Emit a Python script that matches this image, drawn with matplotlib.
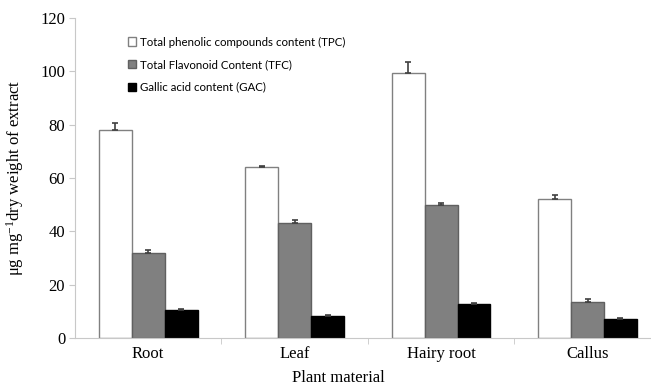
import numpy as np
import matplotlib.pyplot as plt

categories = ['Root', 'Leaf', 'Hairy root', 'Callus']
tpc = [78, 64, 99.5, 52]
tpc_err = [2.8, 0.4, 4.0, 1.5]
tfc = [32, 43, 50, 13.5]
tfc_err = [1.0, 1.3, 0.6, 1.2]
gac = [10.5, 8.3, 12.7, 7.2]
gac_err = [0.5, 0.3, 0.5, 0.3]
labels = ['Total phenolic compounds content (TPC)',
          'Total Flavonoid Content (TFC)',
          'Gallic acid content (GAC)']

serif = ['Liberation Serif', 'DejaVu Serif']
plt.rcParams['mathtext.fontset'] = 'custom'
plt.rcParams['mathtext.rm'] = 'Liberation Serif'

fig = plt.figure(figsize=(6.51, 3.85), dpi=100)
# the x axis runs off the right edge of the figure, as in the original
ax = fig.add_axes([0.115, 0.122, 0.9, 0.831])

x = np.arange(len(categories))
w = 0.225
series = [(tpc, tpc_err, 'white', '#808080'),
          (tfc, tfc_err, '#808080', '#606060'),
          (gac, gac_err, 'black', 'black')]
for i, (vals, err, fc, ec) in enumerate(series):
    pos = x + (i - 1) * w
    ax.bar(pos, vals, w, color=fc, edgecolor=ec, linewidth=1, label=labels[i], zorder=2)
    ax.errorbar(pos, vals, yerr=[np.zeros(len(err)), err], fmt='none',
                ecolor='#404040', elinewidth=1.2, capsize=2.5, capthick=1.2, zorder=3)

ax.set_xlim(-0.5, 3.5)
ax.set_ylim(0, 120)
ax.set_yticks(range(0, 121, 20))
ax.set_xticks(x)
ax.set_xticklabels(categories)
ax.set_xticks([0.5, 1.5, 2.5], minor=True)
ax.tick_params(axis='x', which='major', length=0, pad=6)
ax.tick_params(axis='x', which='minor', length=4, color='#c8c8c8')
ax.tick_params(axis='y', length=4, color='#c8c8c8', pad=3)
for lab in ax.get_xticklabels() + ax.get_yticklabels():
    lab.set_fontfamily(serif)
    lab.set_fontsize(12)

for s in ['top', 'right']:
    ax.spines[s].set_visible(False)
for s in ['left', 'bottom']:
    ax.spines[s].set_color('#c8c8c8')

ax.set_xlabel('Plant material', fontfamily=serif, fontsize=12, labelpad=5)
ax.xaxis.set_label_coords(0.45, -0.1)
ax.set_ylabel(r'μg mg$\mathregular{^{-1}}$dry weight of extract', fontfamily=serif,
              fontsize=12, labelpad=10)

ax.legend(loc='upper left', bbox_to_anchor=(0.073, 0.975), frameon=False,
          prop={'family': 'Lato', 'size': 8.3}, handlelength=0.7, handleheight=0.7,
          handletextpad=0.3, labelspacing=1.0)

fig.savefig('out.png', dpi=100)
